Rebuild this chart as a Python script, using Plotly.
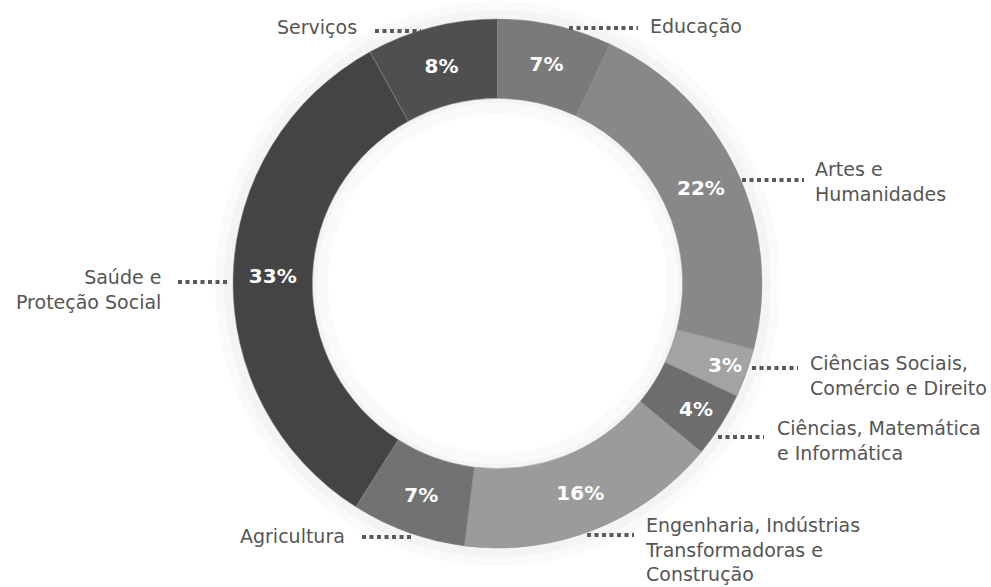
import plotly.graph_objects as go

# Share of graduates by field of study (%), clockwise from 12 o'clock
areas = [
    "Educação",
    "Artes e Humanidades",
    "Ciências Sociais, Comércio e Direito",
    "Ciências, Matemática e Informática",
    "Engenharia, Indústrias Transformadoras e Construção",
    "Agricultura",
    "Saúde e Proteção Social",
    "Serviços",
]
shares = [7, 22, 3, 4, 16, 7, 33, 8]
shades = ["#7a7a7a", "#888888", "#a3a3a3", "#6d6d6d",
          "#9b9b9b", "#727272", "#444444", "#4f4f4f"]

W, H = 991, 587
CX, CY, R_OUT = 497.5, 283.5, 264.5


def px(x):
    return x / W


def py(y):
    return 1 - y / H


fig = go.Figure()

# faint soft glow around the ring (two layered bands)
for grow, hole, tone in [(18, 0.60, "#fafafa"), (9, 0.66, "#f4f4f4")]:
    fig.add_trace(go.Pie(
        values=[1], hole=hole, sort=False,
        marker=dict(colors=[tone]),
        textinfo="none", hoverinfo="skip", showlegend=False,
        domain=dict(x=[px(CX - R_OUT - grow), px(CX + R_OUT + grow)],
                    y=[py(CY + R_OUT + grow), py(CY - R_OUT - grow)]),
    ))

fig.add_trace(go.Pie(
    labels=areas,
    values=shares,
    hole=0.70,
    sort=False,
    direction="clockwise",
    rotation=0,
    marker=dict(colors=shades, line=dict(color="#8a8a8a", width=0.5)),
    texttemplate="%{value}%",
    textposition="inside",
    insidetextorientation="horizontal",
    textfont=dict(family="DejaVu Sans", size=20, color="white", weight="bold"),
    hoverinfo="label+value",
    showlegend=False,
    domain=dict(x=[px(CX - R_OUT), px(CX + R_OUT)],
                y=[py(CY + R_OUT), py(CY - R_OUT)]),
))

label_font = dict(family="DejaVu Sans", size=19, color="#555555")

# (text, x, y, xanchor) in pixels
callouts = [
    ("Serviços", 359, 27, "right"),
    ("Educação", 648, 26, "left"),
    ("Artes e<br>Humanidades", 813, 181, "left"),
    ("Ciências Sociais,<br>Comércio e Direito", 808, 375, "left"),
    ("Ciências, Matemática<br>e Informática", 775, 440, "left"),
    ("Engenharia, Indústrias<br>Transformadoras e<br>Construção", 643, 549, "left"),
    ("Agricultura", 347, 536, "right"),
    ("Saúde e<br>Proteção Social", 163, 290, "right"),
]
for text, x, y, anchor in callouts:
    fig.add_annotation(
        text=text, x=px(x), y=py(y), xref="paper", yref="paper",
        xanchor=anchor, yanchor="middle", align=anchor,
        showarrow=False, font=label_font,
    )

# dotted leader segments (x0, x1, y) in pixels
leaders = [
    (375, 421, 31),
    (569, 638, 28),
    (742, 804, 180),
    (752, 798, 368),
    (718, 764, 437),
    (587, 634, 535),
    (362, 411, 537),
    (178, 228, 282),
]
for x0, x1, y in leaders:
    fig.add_shape(
        type="line", xref="paper", yref="paper",
        x0=px(x0), x1=px(x1), y0=py(y), y1=py(y),
        line=dict(color="#595959", width=4, dash="4px,3.5px"),
    )

fig.update_layout(
    width=W, height=H,
    margin=dict(l=0, r=0, t=0, b=0),
    paper_bgcolor="white",
    plot_bgcolor="white",
)

fig.write_html("out.html")
